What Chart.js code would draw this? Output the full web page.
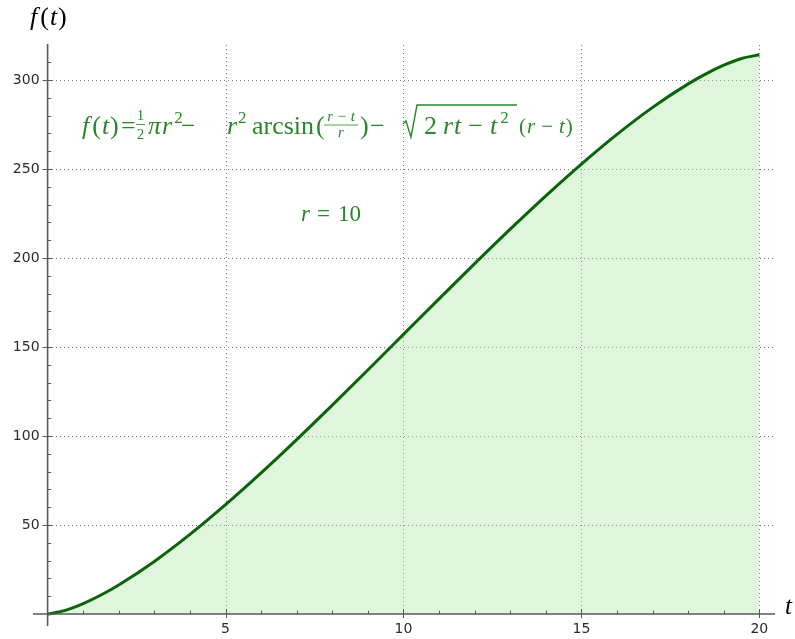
<!DOCTYPE html>
<html>
<head>
<meta charset="utf-8">
<script src="https://cdn.jsdelivr.net/npm/chart.js@4.4.1/dist/chart.umd.min.js"></script>
<style>
  html, body { margin: 0; padding: 0; background: #ffffff; }
  #wrap { width: 795px; height: 639px; }
</style>
</head>
<body>
<div id="wrap"><canvas id="c" width="795" height="639"></canvas></div>
<script>
// t values and f(t) values (r = 10)
const tValues = [0, 0.5, 1, 1.5, 2, 3, 4, 5, 6, 7, 8, 9, 10, 11, 12, 13, 14, 15, 16, 17, 18, 18.5, 19, 19.5, 20];
const fValues = [0, 2.09, 5.87, 10.70, 16.35, 29.55, 44.73, 61.42, 79.27, 97.99, 117.35, 137.11, 157.08,
                 177.05, 196.81, 216.17, 234.89, 252.74, 269.43, 284.61, 297.81, 303.46, 308.29, 312.07, 314.16];
const xTickValues = [5, 10, 15, 20];
const xTickLabels = ['5', '10', '15', '20'];
const yTickValues = [50, 100, 150, 200, 250, 300];
const yTickLabels = ['50', '100', '150', '200', '250', '300'];
const xMinorTicks = [1, 2, 3, 4, 6, 7, 8, 9, 11, 12, 13, 14, 16, 17, 18, 19];
const yMinorTicks = [10, 20, 30, 40, 60, 70, 80, 90, 110, 120, 130, 140, 160, 170, 180, 190, 210, 220, 230, 240, 260, 270, 280, 290, 310];

const points = tValues.map((t, i) => ({ x: t, y: fValues[i] }));

const MATH_GREEN = '#2a862a';
const SERIF = '"Liberation Serif", "DejaVu Serif", serif';

function drawMath(ctx) {
  ctx.save();
  ctx.fillStyle = MATH_GREEN;
  ctx.strokeStyle = MATH_GREEN;
  ctx.textBaseline = 'alphabetic';
  ctx.textAlign = 'left';
  const S = 26, base = 134;
  let x;
  function put(str, italic, size, xx, yy) {
    ctx.font = (italic ? 'italic ' : '') + size + 'px ' + SERIF;
    ctx.fillText(str, xx, yy);
    return xx + ctx.measureText(str).width;
  }
  // f(t) =
  x = 82;
  x = put('f', true, S, x, base) + 3;
  x = put('(', false, S, x, base);
  x = put('t', true, S, x + 1, base);
  x = put(')', false, S, x + 1, base);
  put('=', false, S, 121, base);
  // 1/2
  ctx.textAlign = 'center';
  put('1', false, 15, 140.5, 120);
  put('2', false, 15, 140.5, 139);
  ctx.textAlign = 'left';
  ctx.lineWidth = 0.8;
  ctx.beginPath(); ctx.moveTo(136, 124.5); ctx.lineTo(145, 124.5); ctx.stroke();
  // pi r^2
  x = put('π', true, S, 148, base);
  x = put('r', true, S, x + 1, base);
  put('2', false, 17, x + 2, base - 11);
  put('−', false, S, 181, base);
  // r^2 arcsin( (r-t)/r )
  x = put('r', true, S, 227, base);
  put('2', false, 17, x + 1, base - 11);
  put('arcsin', false, S, 252, base);
  put('(', false, S, 316, base);
  ctx.textAlign = 'center';
  put('r − t', true, 15, 341, 121);
  put('r', true, 15, 341, 137);
  ctx.textAlign = 'left';
  ctx.beginPath(); ctx.moveTo(324, 125); ctx.lineTo(358, 125); ctx.stroke();
  put(')', false, S, 360, base);
  put('−', false, S, 370, base);
  // sqrt(2rt - t^2)
  ctx.lineWidth = 1.4;
  ctx.beginPath();
  ctx.moveTo(403, 124); ctx.lineTo(406, 121); ctx.lineTo(411, 137);
  ctx.lineTo(417, 105); ctx.lineTo(517, 105);
  ctx.stroke();
  x = put('2', false, S, 424, base);
  x = put('r', true, S, x + 6, base);
  x = put('t', true, S, x + 1, base);
  x = put('−', false, S, x + 7, base);
  x = put('t', true, S, x + 7, base);
  put('2', false, 17, x + 3, base - 11);
  // (r - t) smaller
  x = put('(', false, 21, 519, base - 1);
  x = put('r', true, 21, x + 1, base - 1);
  x = put('−', false, 21, x + 6, base - 1);
  x = put('t', true, 21, x + 6, base - 1);
  put(')', false, 21, x + 1, base - 1);
  // r = 10
  x = put('r', true, 23, 301, 221);
  x = put('=', false, 23, x + 7, 221);
  put('10', false, 23, x + 8, 221);
  ctx.restore();
}

const axesPlugin = {
  id: 'mathAxes',
  beforeDraw(chart) {
    const ctx = chart.ctx;
    const xs = chart.scales.x, ys = chart.scales.y;
    ctx.save();
    ctx.fillStyle = '#ffffff';
    ctx.fillRect(0, 0, chart.width, chart.height);
    // dotted grid
    ctx.strokeStyle = '#7a7a7a';
    ctx.lineWidth = 1;
    ctx.setLineDash([1, 3]);
    const y0 = Math.round(ys.getPixelForValue(0));
    xTickValues.forEach(v => {
      const px = Math.round(xs.getPixelForValue(v)) + 0.5;
      ctx.beginPath(); ctx.moveTo(px, y0); ctx.lineTo(px, chart.chartArea.top); ctx.stroke();
    });
    const x0 = Math.round(xs.getPixelForValue(0));
    yTickValues.forEach(v => {
      const py = Math.round(ys.getPixelForValue(v)) + 0.5;
      ctx.beginPath(); ctx.moveTo(x0, py); ctx.lineTo(chart.chartArea.right, py); ctx.stroke();
    });
    ctx.restore();
  },
  afterDatasetsDraw(chart) {
    const ctx = chart.ctx;
    const xs = chart.scales.x, ys = chart.scales.y;
    const area = chart.chartArea;
    const x0 = xs.getPixelForValue(0);
    const y0 = ys.getPixelForValue(0);
    ctx.save();
    ctx.strokeStyle = '#585858';
    ctx.lineWidth = 1.6;
    // axis lines
    ctx.beginPath(); ctx.moveTo(area.left, y0); ctx.lineTo(area.right, y0); ctx.stroke();
    ctx.beginPath(); ctx.moveTo(x0, area.top); ctx.lineTo(x0, area.bottom); ctx.stroke();
    // ticks
    ctx.lineWidth = 1;
    xMinorTicks.forEach(v => {
      const px = Math.round(xs.getPixelForValue(v)) + 0.5;
      ctx.beginPath(); ctx.moveTo(px, y0); ctx.lineTo(px, y0 - 3.5); ctx.stroke();
    });
    xTickValues.forEach(v => {
      const px = Math.round(xs.getPixelForValue(v)) + 0.5;
      ctx.beginPath(); ctx.moveTo(px, y0 + 4); ctx.lineTo(px, y0 - 5); ctx.stroke();
    });
    yMinorTicks.forEach(v => {
      const py = Math.round(ys.getPixelForValue(v)) + 0.5;
      ctx.beginPath(); ctx.moveTo(x0, py); ctx.lineTo(x0 + 3.5, py); ctx.stroke();
    });
    yTickValues.forEach(v => {
      const py = Math.round(ys.getPixelForValue(v)) + 0.5;
      ctx.beginPath(); ctx.moveTo(x0 - 5, py); ctx.lineTo(x0 + 5, py); ctx.stroke();
    });
    // tick labels
    ctx.fillStyle = '#2b2b2b';
    ctx.font = '14px "DejaVu Sans", sans-serif';
    ctx.textAlign = 'center';
    ctx.textBaseline = 'middle';
    xTickValues.forEach((v, i) => {
      ctx.fillText(xTickLabels[i], xs.getPixelForValue(v), y0 + 15);
    });
    ctx.textAlign = 'right';
    yTickValues.forEach((v, i) => {
      ctx.fillText(yTickLabels[i], x0 - 8, ys.getPixelForValue(v) + 0.5);
    });
    // axis labels
    ctx.fillStyle = '#000000';
    ctx.textAlign = 'left';
    ctx.textBaseline = 'alphabetic';
    let x = 30;
    ctx.font = 'italic 26px ' + SERIF;
    ctx.fillText('f', x, 25); x += ctx.measureText('f').width + 3;
    ctx.font = '26px ' + SERIF;
    ctx.fillText('(', x, 25); x += ctx.measureText('(').width + 1;
    ctx.font = 'italic 26px ' + SERIF;
    ctx.fillText('t', x, 25); x += ctx.measureText('t').width + 1;
    ctx.font = '26px ' + SERIF;
    ctx.fillText(')', x, 25);
    ctx.font = 'italic 25px ' + SERIF;
    ctx.fillText('t', 785, 614);
    ctx.restore();
    drawMath(ctx);
  }
};

new Chart(document.getElementById('c'), {
  type: 'line',
  data: {
    datasets: [{
      data: points,
      borderColor: '#0a640a',
      borderWidth: 3,
      backgroundColor: 'rgba(164,226,155,0.35)',
      fill: 'origin',
      pointRadius: 0,
      cubicInterpolationMode: 'monotone',
      clip: false
    }]
  },
  options: {
    responsive: false,
    animation: false,
    devicePixelRatio: 1,
    layout: { padding: { left: 33, right: 20, top: 44, bottom: 13 } },
    plugins: { legend: { display: false }, tooltip: { enabled: false }, title: { display: false } },
    scales: {
      x: { type: 'linear', min: -0.41, max: 20.44, display: false },
      y: { type: 'linear', min: -6.7, max: 320.2, display: false }
    }
  },
  plugins: [axesPlugin]
});
</script>
</body>
</html>
